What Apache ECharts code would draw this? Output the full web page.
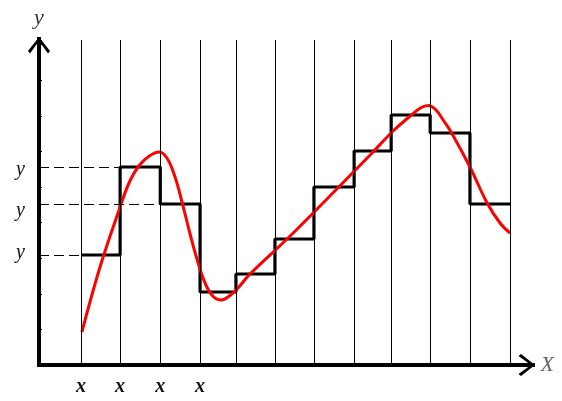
<!DOCTYPE html>
<html><head><meta charset="utf-8">
<script src="https://cdn.jsdelivr.net/npm/echarts@6/dist/echarts.min.js"></script>
<style>html,body{margin:0;padding:0;background:#fff}#c{width:562px;height:401px}</style>
</head><body><div id="c"></div>
<script>
// Node positions (vertical lines) on the x scale
const xNodes = [1.0, 2.0, 3.03, 4.05, 4.97, 5.97, 6.97, 8.0, 8.95, 9.95, 10.97, 12.0];
// Step levels for each interval between consecutive nodes
const stepLevels = [11.0, 19.8, 16.1, 7.3, 9.1, 12.6, 17.8, 21.4, 25.0, 23.2, 16.1];
// Red smooth curve
const curveX = [1.02, 1.5, 2.0, 2.25, 2.5, 2.75, 3.0, 3.2, 3.4, 3.6, 3.8, 4.0, 4.2, 4.4, 4.6, 4.8, 5.0, 5.33, 6.36, 7.38, 8.41, 9.0, 9.44, 9.7, 9.9, 10.1, 10.3, 10.5, 10.97, 11.41, 11.74, 12.0];
const curveY = [3.3, 10.0, 15.8, 18.4, 20.0, 20.9, 21.3, 20.7, 18.9, 16.1, 13.0, 10.2, 8.0, 6.8, 6.5, 6.9, 7.6, 9.1, 12.9, 16.9, 21.0, 23.4, 24.9, 25.7, 25.95, 25.5, 24.4, 23.2, 19.8, 16.2, 14.2, 13.2];
// Tick labels under the vertical lines
const xTickLabels = ['x', 'x', 'x', 'x', '', '', '', '', '', '', '', ''];
// Dashed guide lines: step index whose level is marked, and its label
const dashedSteps = [1, 2, 0];
const yTickLabels = ['y', 'y', 'y'];
const xAxisName = 'X';
const yAxisName = 'y';

const X_MIN = -0.08, X_MAX = 12.42, Y_MIN = 0, Y_MAX = 32.5;
const serif = '"Liberation Serif", "DejaVu Serif", serif';
const chevron = 'path://M11,0 L22,14 L20,16.5 L11,4 L2,16.5 L0,14 Z M9,0 L13,0 L13,17 L9,17 Z';

const stepData = xNodes.map((x, i) => [x, stepLevels[Math.min(i, stepLevels.length - 1)]]);
const curveData = curveX.map((x, i) => [x, curveY[i]]);

const vLines = xNodes.map((x, i) => ({
  xAxis: x,
  label: {
    show: xTickLabels[i] !== '',
    formatter: xTickLabels[i],
    position: 'start',
    distance: 12,
    fontFamily: serif, fontStyle: 'italic', fontWeight: 'bold', fontSize: 20, color: '#111'
  }
}));
const yPads = [[6,0,0,0],[14,0,0,0],[0,0,4,0]];
const hLines = dashedSteps.map((s, k) => [
  { coord: [X_MIN, stepLevels[s]],
    label: { show: true, formatter: '{a|' + yTickLabels[k] + '}', position: 'start', distance: 14,
      rich: { a: { padding: yPads[k], fontFamily: serif, fontStyle: 'italic', fontSize: 20, color: '#111' } } } },
  { coord: [xNodes[s], stepLevels[s]] }
]);

const chart = echarts.init(document.getElementById('c'), null, {renderer: 'canvas'});
chart.setOption({
  animation: false,
  backgroundColor: '#fff',
  grid: { left: 39, right: 35.5, top: 40, bottom: 36, containLabel: false },
  xAxis: {
    type: 'value', min: X_MIN, max: X_MAX,
    name: xAxisName, nameLocation: 'end', nameGap: 14,
    nameTextStyle: { fontFamily: serif, fontStyle: 'italic', fontSize: 22, color: '#666', padding: [0,0,8,0] },
    axisLine: { onZero: false, symbol: ['none', chevron], symbolSize: [22, 17], symbolOffset: [0, 0],
      lineStyle: { color: '#000', width: 4, cap: 'square' } },
    axisTick: { show: false }, axisLabel: { show: false }, splitLine: { show: false }
  },
  yAxis: {
    type: 'value', min: Y_MIN, max: Y_MAX, interval: 3.56,
    name: yAxisName, nameLocation: 'end', nameGap: 11,
    nameTextStyle: { fontFamily: serif, fontStyle: 'italic', fontSize: 22, color: '#333' },
    axisLine: { onZero: false, symbol: ['none', chevron], symbolSize: [22, 17], symbolOffset: [0, -5.5],
      lineStyle: { color: '#000', width: 4, cap: 'square' } },
    axisTick: { show: true, inside: true, length: 3, lineStyle: { color: '#000', width: 1 } },
    axisLabel: { show: false }, splitLine: { show: false }
  },
  series: [
    {
      type: 'line', data: [], z: 1, silent: true, symbol: 'none',
      markLine: {
        silent: true, symbol: ['none', 'none'], animation: false,
        lineStyle: { color: '#000', width: 1, type: 'solid' },
        label: { show: false },
        data: vLines
      }
    },
    {
      type: 'line', data: [], z: 1, silent: true, symbol: 'none',
      markLine: {
        silent: true, symbol: ['none', 'none'], animation: false,
        lineStyle: { color: '#000', width: 1, type: [10, 5] },
        data: hLines
      }
    },
    {
      type: 'line', data: stepData, step: 'end', z: 3, silent: true, symbol: 'none',
      lineStyle: { color: '#000', width: 3.2 }
    },
    {
      type: 'line', data: curveData, smooth: 0.4, z: 4, silent: true, symbol: 'none',
      lineStyle: { color: '#ff0000', width: 3 }
    }
  ]
});
</script></body></html>
